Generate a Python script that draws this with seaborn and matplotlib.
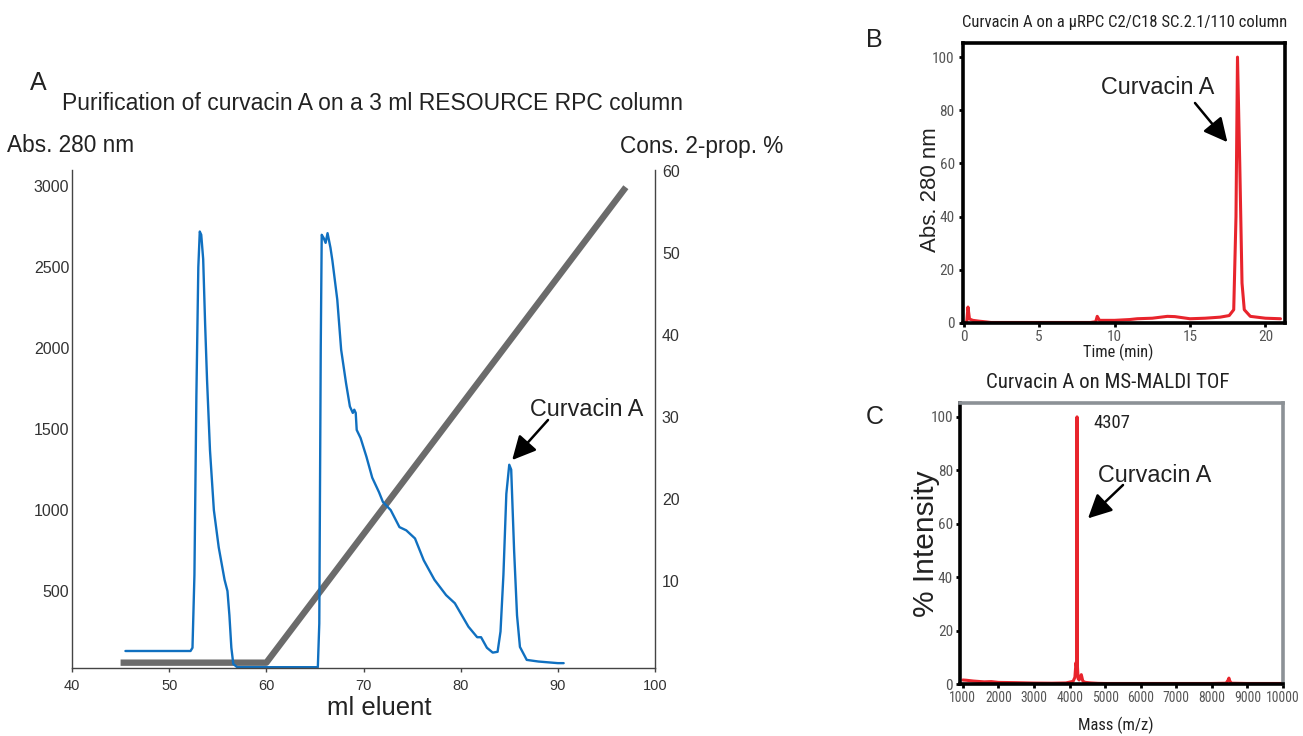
import matplotlib
matplotlib.use("Agg")
import matplotlib.pyplot as plt
import seaborn as sns

# ---------------- data ----------------
# Panel A: blue absorbance trace (ml eluent, Abs 280 nm)
a_ml = [45.5, 52.2, 52.4, 52.6, 52.8, 53.0, 53.15, 53.3, 53.5, 53.7, 53.9, 54.2, 54.6,
        55.1, 55.7, 56.0, 56.2, 56.4, 56.6, 57.0, 65.3, 65.45, 65.6, 65.7, 65.9, 66.1,
        66.3, 66.6, 66.8, 67.3, 67.7, 68.2, 68.6, 68.9, 69.05, 69.2, 69.3, 69.7, 70.3,
        70.9, 71.6, 72.0, 72.8, 73.7, 74.4, 75.3, 76.2, 77.3, 78.5, 79.4, 80.8, 81.7,
        82.1, 82.7, 83.3, 83.8, 84.1, 84.4, 84.7, 85.0, 85.2, 85.5, 85.8, 86.1, 86.8,
        88.0, 90.0, 90.6]
a_abs = [130, 130, 150, 600, 1700, 2500, 2720, 2700, 2550, 2150, 1800, 1370, 1000,
         770, 570, 500, 350, 150, 50, 30, 30, 300, 2000, 2700, 2680, 2650,
         2710, 2620, 2540, 2300, 1990, 1785, 1640, 1600, 1620, 1600, 1495, 1445, 1330,
         1200, 1110, 1050, 1000, 895, 875, 825, 690, 570, 475, 425, 280, 215,
         215, 150, 120, 125, 250, 600, 1100, 1280, 1250, 750, 350, 155, 75,
         65, 55, 55]
# Panel A: 2-propanol gradient (ml eluent, %)
g_ml = [45.0, 60.0, 97.0]
g_pct = [0.0, 0.0, 58.0]
a_left_ticks = [500, 1000, 1500, 2000, 2500, 3000]
a_right_ticks = [10, 20, 30, 40, 50, 60]
a_x_ticks = [40, 50, 60, 70, 80, 90, 100]

# Panel B: µRPC chromatogram (min, Abs 280 nm)
b_time = [0.0, 0.2, 0.28, 0.38, 0.6, 1.0, 1.5, 1.8, 5.0, 8.4, 8.75, 8.85, 9.0, 10.0,
          11.0, 11.5, 12.5, 13.5, 14.0, 15.0, 16.0, 17.0, 17.6, 17.9, 18.05, 18.15,
          18.3, 18.45, 18.6, 19.0, 20.0, 21.0]
b_abs = [0.0, 0.5, 6.0, 1.5, 1.0, 0.7, 0.4, 0.2, 0.2, 0.2, 0.5, 2.5, 1.0, 1.0,
         1.3, 1.6, 1.8, 2.5, 2.4, 1.6, 1.8, 2.2, 2.8, 5.0, 40.0, 100.0,
         60.0, 15.0, 5.0, 2.5, 1.8, 1.6]
b_y_ticks = [0, 20, 40, 60, 80, 100]
b_x_ticks = [0, 5, 10, 15, 20]

# Panel C: MALDI-TOF spectrum (m/z, % intensity)
c_mass = [1000, 1100, 1300, 1600, 1800, 2000, 2500, 3000, 3500, 3900, 4100, 4150, 4180,
          4200, 4210, 4220, 4240, 4270, 4330, 4370, 4400, 4450, 4600, 4800, 5000, 6000,
          7000, 8000, 8400, 8460, 8480, 8500, 8550, 9000, 10000]
c_int = [1.5, 1.4, 1.1, 0.8, 0.9, 0.6, 0.5, 0.35, 0.3, 0.4, 1.0, 2.5, 8.0,
         6.0, 100.0, 7.0, 2.0, 1.5, 3.5, 1.2, 0.8, 0.6, 0.4, 0.25, 0.2, 0.2,
         0.2, 0.2, 0.3, 1.5, 2.2, 1.2, 0.3, 0.2, 0.2]
c_y_ticks = [0, 20, 40, 60, 80, 100]
c_x_ticks = [1000, 2000, 3000, 4000, 5000, 6000, 7000, 8000, 9000, 10000]

# ---------------- style ----------------
sns.set_theme(style="white")
plt.rcParams["font.family"] = ["Liberation Sans", "DejaVu Sans"]
NARROW = ["Roboto Condensed", "Liberation Sans Narrow", "Liberation Sans", "DejaVu Sans"]

W, H = 1303, 736
fig = plt.figure(figsize=(W / 100, H / 100), dpi=100)
fig.patch.set_facecolor("white")


def fx(x):
    return x / W


def fy(y):
    return 1 - y / H


def box(l, t, r, b):
    return [fx(l), fy(b), (r - l) / W, (b - t) / H]


BLUE = "#1070c0"
GRAY = "#6b6b6b"
RED = "#e8242c"
TXT = "#222222"
arrow_kw = dict(arrowstyle="-|>,head_length=0.9,head_width=0.45", color="black",
                lw=1.8, mutation_scale=16, shrinkA=0, shrinkB=0)

# ---------------- Panel A ----------------
axA = fig.add_axes(box(72, 170, 655, 668))
axA2 = axA.twinx()
sns.lineplot(x=g_ml, y=g_pct, ax=axA2, color=GRAY, lw=4.6, estimator=None,
             solid_capstyle="butt")
sns.lineplot(x=a_ml, y=a_abs, ax=axA, color=BLUE, lw=1.7, estimator=None)
axA.set_zorder(axA2.get_zorder() + 1)
axA.patch.set_visible(False)

axA.set_xlim(40, 100)
axA.set_ylim(25, 3100)
axA2.set_ylim(-0.65, 60.1)
axA.set_xticks(a_x_ticks)
axA.set_yticks(a_left_ticks)
axA2.set_yticks(a_right_ticks)
axA.set_xlabel("")
axA.set_ylabel("")
axA2.set_ylabel("")
for a in (axA, axA2):
    a.spines["top"].set_visible(False)
    for s in ("left", "right", "bottom"):
        a.spines[s].set_color("#444444")
        a.spines[s].set_linewidth(1.0)
axA2.spines["left"].set_visible(False)
axA.spines["right"].set_visible(False)
axA2.spines["bottom"].set_visible(False)
axA.tick_params(axis="y", length=0, pad=2, labelsize=11.5, labelcolor="#333333")
axA2.tick_params(axis="y", length=0, pad=5, labelsize=11.5, labelcolor="#333333")
axA.tick_params(axis="x", length=3, width=1, color="#444444", pad=5,
                labelsize=10.5, labelcolor="#333333", bottom=True)

fig.text(fx(30), fy(83), "A", fontsize=18, ha="left", va="center", color=TXT)
fig.text(fx(62), fy(103), "Purification of curvacin A on a 3 ml RESOURCE RPC column",
         fontsize=16.5, ha="left", va="center", color=TXT)
fig.text(fx(7), fy(146), "Abs. 280 nm", fontsize=16.3, ha="left", va="center",
         color=TXT)
fig.text(fx(783), fy(146), "Cons. 2-prop. %", fontsize=16.3, ha="right", va="center",
         color=TXT)
fig.text(fx(379), fy(708), "ml eluent", fontsize=18.5, ha="center", va="center",
         color=TXT)
fig.text(fx(587), fy(410), "Curvacin A", fontsize=16.8, ha="center", va="center",
         color=TXT)
axA.annotate("", xy=(85.3, 1309), xycoords="data",
             xytext=(fx(548), fy(420)), textcoords="figure fraction",
             arrowprops=arrow_kw)

# ---------------- Panel B ----------------
axB = fig.add_axes(box(963, 43, 1285, 323))
sns.lineplot(x=b_time, y=b_abs, ax=axB, color=RED, lw=2.2, estimator=None)
axB.set_xlim(-0.05, 21.3)
axB.set_ylim(0, 105.3)
axB.set_xticks(b_x_ticks)
axB.set_yticks(b_y_ticks)
axB.set_xlabel("")
axB.set_ylabel("")
for s in axB.spines.values():
    s.set_visible(True)
    s.set_color("black")
    s.set_linewidth(2.6)
axB.tick_params(axis="both", length=3, width=2, color="black", direction="out",
                bottom=True, left=True, labelcolor="#555555")
axB.tick_params(axis="y", pad=3)
axB.tick_params(axis="x", pad=2)
for lab in axB.get_xticklabels() + axB.get_yticklabels():
    lab.set_fontfamily(NARROW)
    lab.set_fontsize(11)

fig.text(fx(1125), fy(23), "Curvacin A on a µRPC C2/C18 SC.2.1/110 column",
         fontsize=12, ha="center", va="center", color=TXT, family=NARROW)
fig.text(fx(866), fy(40), "B", fontsize=18, ha="left", va="center", color=TXT)
fig.text(fx(930), fy(190), "Abs. 280 nm", fontsize=16, rotation=90, ha="center",
         va="center", color=TXT)
fig.text(fx(1118), fy(352), "Time (min)", fontsize=11.8, ha="center", va="center",
         color=TXT, family=NARROW)
fig.text(fx(1158), fy(87), "Curvacin A", fontsize=16.8, ha="center", va="center",
         color=TXT)
axB.annotate("", xy=(17.48, 68), xycoords="data",
             xytext=(fx(1195), fy(103)), textcoords="figure fraction",
             arrowprops=arrow_kw)

# ---------------- Panel C ----------------
axC = fig.add_axes(box(960, 403, 1283, 684))
sns.lineplot(x=c_mass, y=c_int, ax=axC, color=RED, lw=2.2, estimator=None)
axC.set_xlim(920, 10000)
axC.set_ylim(0, 105.2)
axC.set_xticks(c_x_ticks)
axC.set_yticks(c_y_ticks)
axC.set_xlabel("")
axC.set_ylabel("")
for s in ("left", "bottom"):
    axC.spines[s].set_visible(True)
    axC.spines[s].set_color("black")
    axC.spines[s].set_linewidth(2.6)
for s in ("top", "right"):
    axC.spines[s].set_visible(True)
    axC.spines[s].set_color("#8c9196")
    axC.spines[s].set_linewidth(2.6)
axC.tick_params(axis="both", length=3, width=2, color="black", direction="out",
                bottom=True, left=True, labelcolor="#555555")
axC.tick_params(axis="y", pad=2)
axC.tick_params(axis="x", pad=2)
for lab in axC.get_yticklabels():
    lab.set_fontfamily(NARROW)
    lab.set_fontsize(11)
for lab in axC.get_xticklabels():
    lab.set_fontfamily(NARROW)
    lab.set_fontsize(9.8)

fig.text(fx(1108), fy(383), "Curvacin A on MS-MALDI TOF", fontsize=15, ha="center",
         va="center", color=TXT, family=NARROW)
fig.text(fx(866), fy(417), "C", fontsize=18, ha="left", va="center", color=TXT)
fig.text(fx(926), fy(544), "% Intensity", fontsize=21.5, rotation=90, ha="center",
         va="center", color=TXT)
fig.text(fx(1116), fy(725), "Mass (m/z)", fontsize=12, ha="center", va="center",
         color=TXT, family=NARROW)
fig.text(fx(1093), fy(423), "4307", fontsize=13.5, ha="left", va="center",
         color=TXT, family=NARROW)
fig.text(fx(1155), fy(476), "Curvacin A", fontsize=16.8, ha="center", va="center",
         color=TXT)
axC.annotate("", xy=(4518, 62), xycoords="data",
             xytext=(fx(1123), fy(485)), textcoords="figure fraction",
             arrowprops=arrow_kw)

fig.savefig("out.png", dpi=100, facecolor="white")
